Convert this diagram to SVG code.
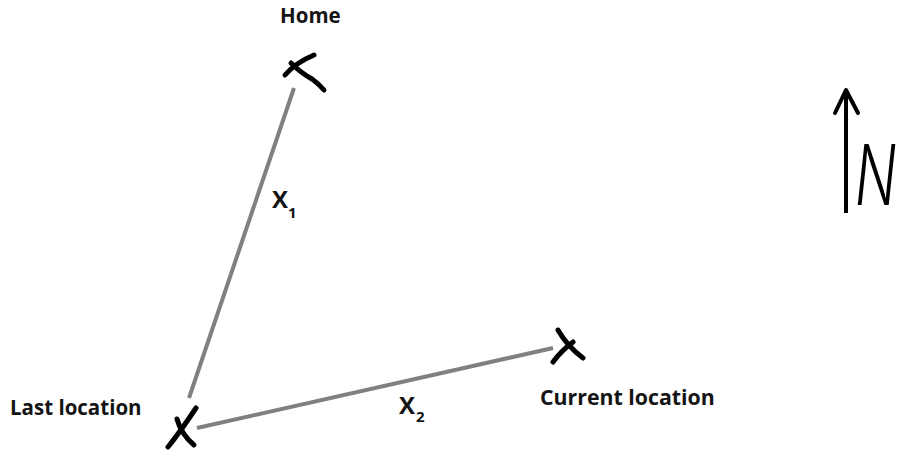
<svg xmlns="http://www.w3.org/2000/svg" width="903" height="450" viewBox="0 0 903 450">
<style>
.lbl{font-family:"Open Sans","Liberation Sans",sans-serif;font-weight:700;font-size:20.5px;fill:#141414}
.xl{font-family:"Open Sans","Liberation Sans",sans-serif;font-weight:700;font-size:24px;fill:#141414}
.sub{font-family:"Open Sans","Liberation Sans",sans-serif;font-weight:700;font-size:15px;fill:#141414}
.mark{fill:none;stroke:#000;stroke-width:5;stroke-linecap:round;stroke-linejoin:round}
.edge{fill:none;stroke:#808080;stroke-width:4}
</style>
<rect width="903" height="450" fill="#fff"/>
<g id="connectors">
<line class="edge" x1="294" y1="88" x2="189" y2="398"/>
<line class="edge" x1="197" y1="428" x2="553" y2="348"/>
</g>
<g id="home">
<path class="mark" d="M285,75 Q295,63 314,55"/>
<path class="mark" d="M291,63 Q301,73 312,79 Q319,84 324,90"/>
<text class="lbl" x="280" y="23">Home</text>
</g>
<g id="last">
<path class="mark" d="M168,447 Q180,432 196,408"/>
<path class="mark" d="M177,419 Q181,434 194,445"/>
<text class="lbl" x="10" y="415">Last location</text>
</g>
<g id="current">
<path class="mark" d="M558,330 Q567,346 583,358"/>
<path class="mark" d="M553,362 Q561,351 573,342"/>
<text class="lbl" x="540" y="405" style="font-size:21.3px">Current location</text>
</g>
<g id="x1">
<text class="xl" x="272" y="208">X</text>
<text class="sub" x="288" y="218">1</text>
</g>
<g id="x2">
<text class="xl" x="399" y="414">X</text>
<text class="sub" x="416" y="422">2</text>
</g>
<g id="north">
<line x1="846" y1="91" x2="846" y2="213" stroke="#000" stroke-width="4"/>
<path d="M835,113 L846,90 L858,113" fill="none" stroke="#000" stroke-width="4" stroke-linecap="round" stroke-linejoin="round"/>
<text x="0" y="0" transform="translate(855,205) scale(0.65,1)" font-family="Inter,'DejaVu Sans',sans-serif" font-weight="300" font-style="italic" font-size="84" fill="#000">N</text>
</g>
</svg>
